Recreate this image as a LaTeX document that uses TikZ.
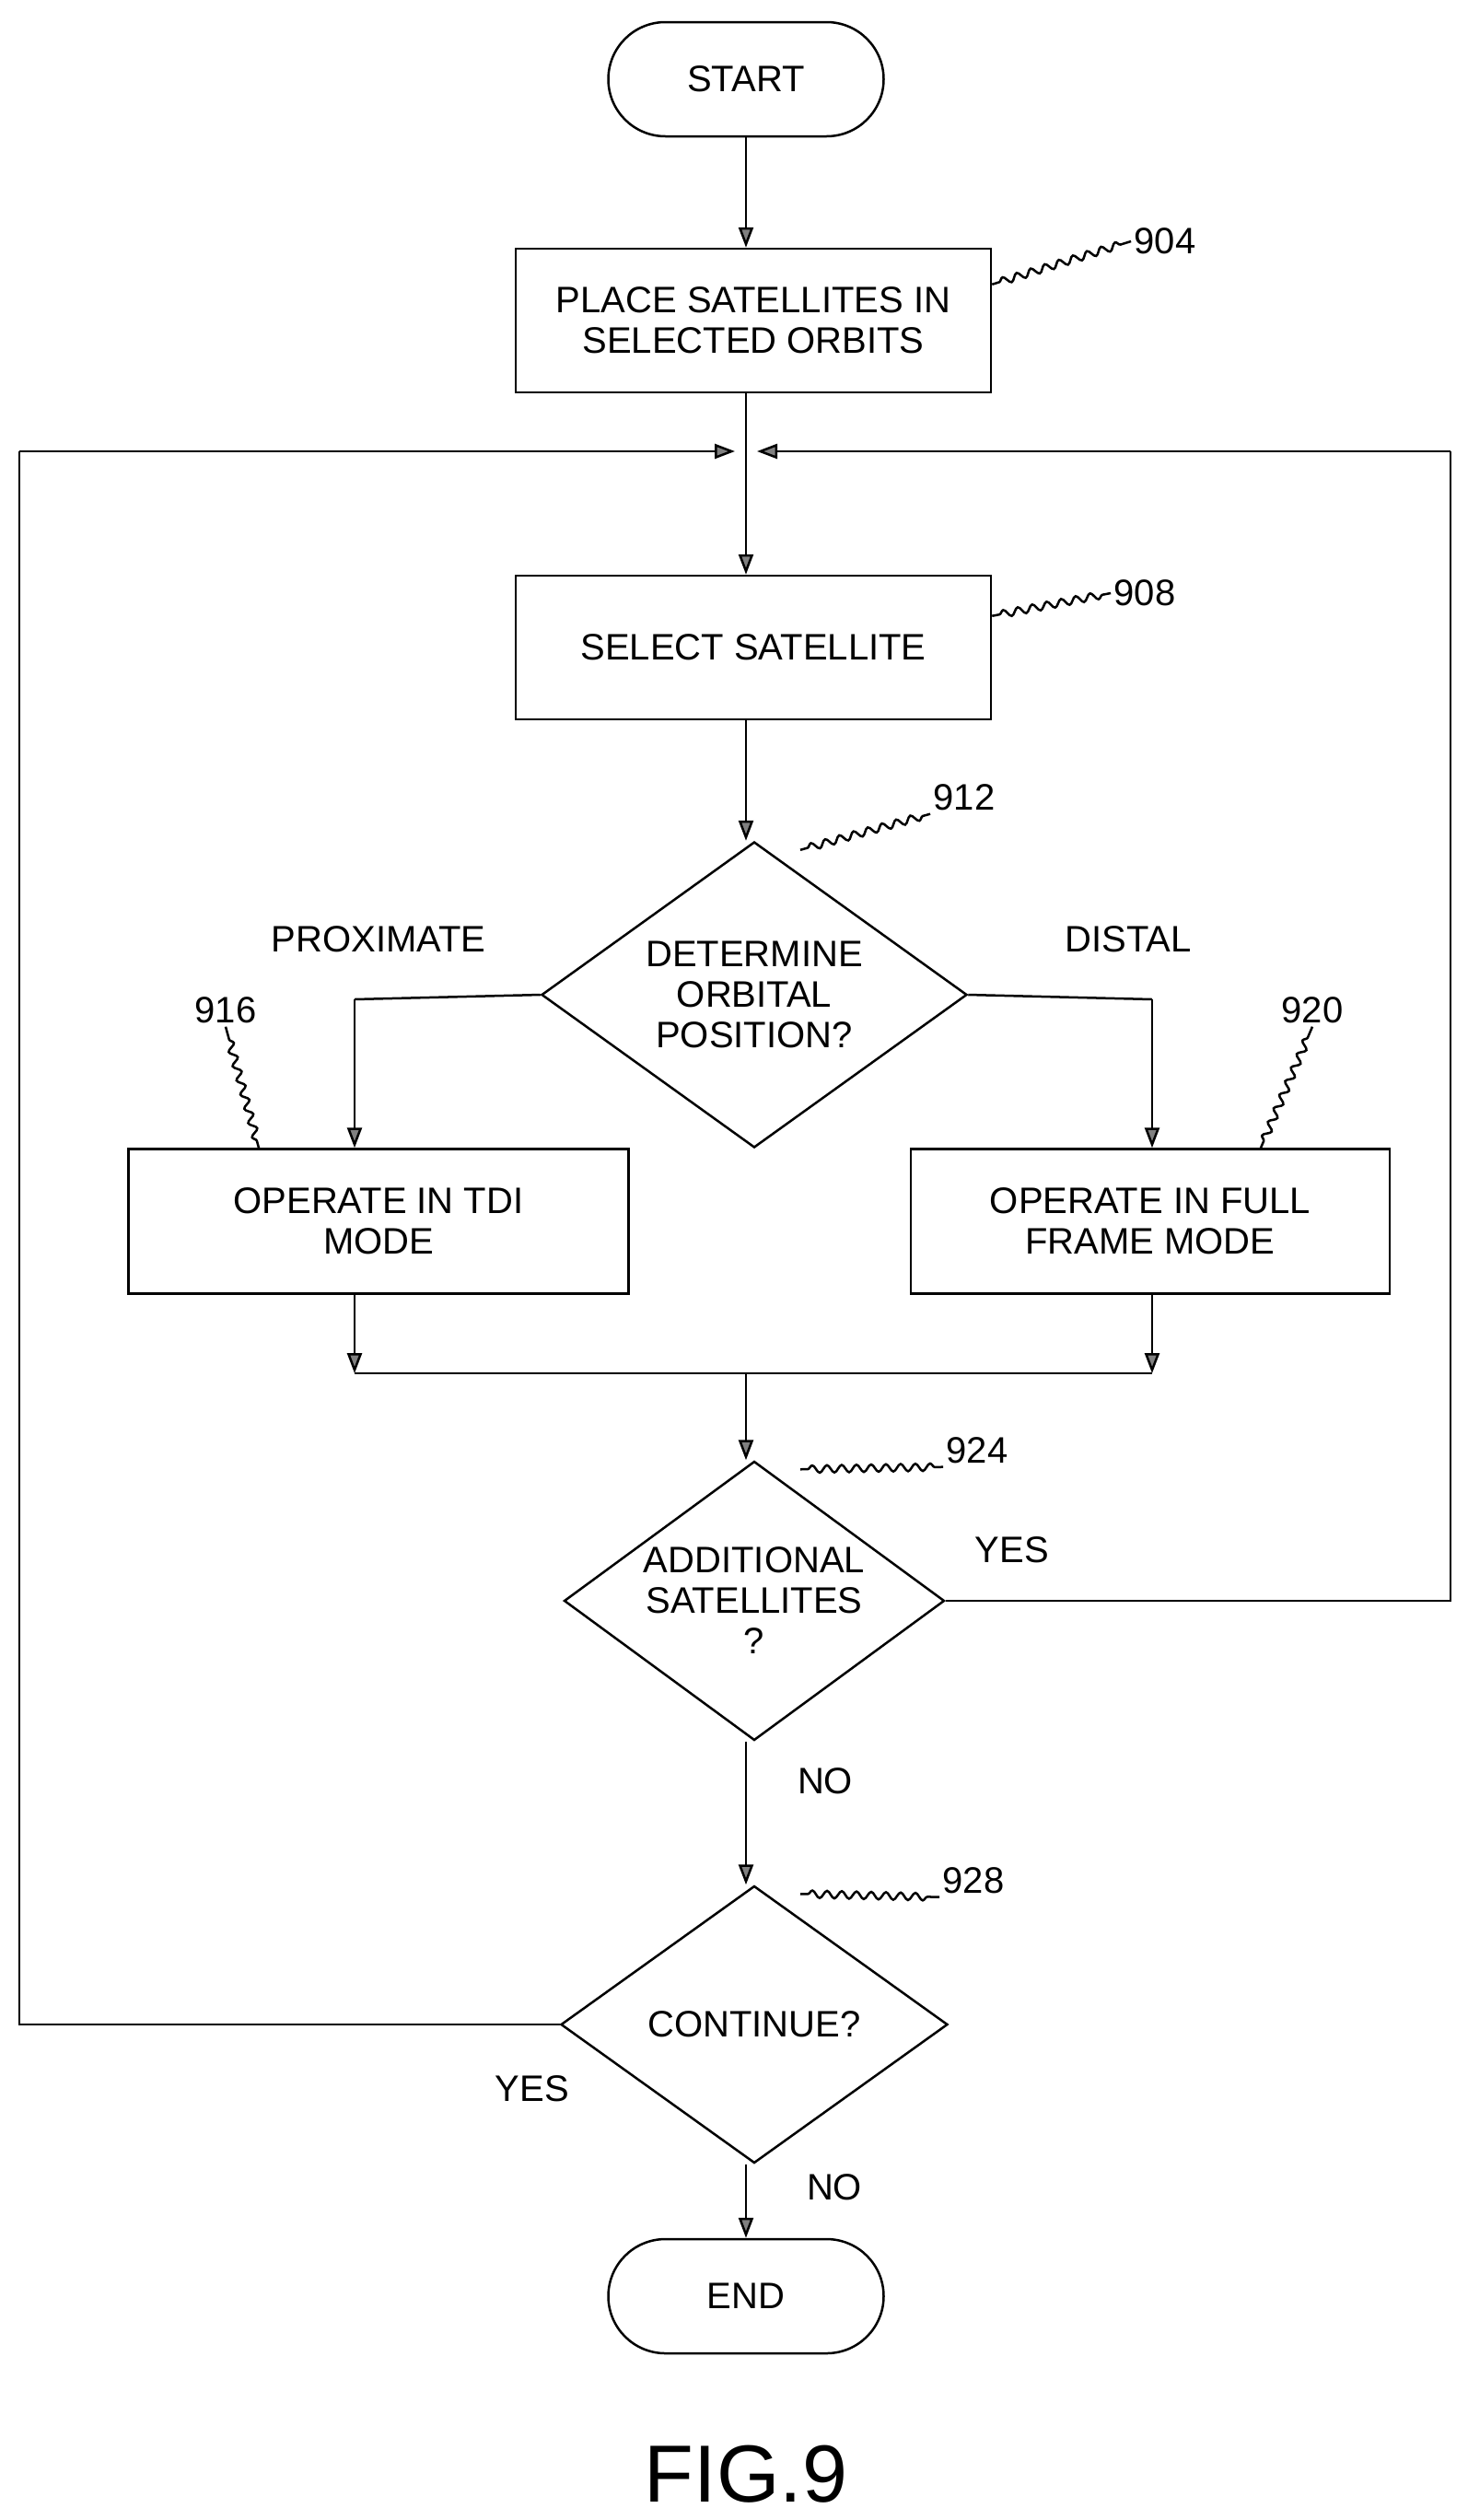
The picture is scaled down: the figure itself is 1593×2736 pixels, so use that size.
\documentclass[tikz,border=0pt]{standalone}
\usepackage{fontspec}
\setmainfont{Liberation Sans}
\usetikzlibrary{shapes.geometric,arrows.meta,decorations.pathmorphing}
\begin{document}
\begin{tikzpicture}[x=1pt,y=-1pt,
 every node/.style={font=\fontsize{40}{44}\selectfont},
 box/.style={draw,line width=2.5pt,minimum width=516pt,minimum height=156pt,align=center,inner sep=0pt},
 term/.style={draw,line width=2.5pt,rounded corners=62pt,minimum width=299pt,minimum height=124pt},
 dia/.style={draw,line width=2.5pt,diamond,aspect=1.39,align=center,inner sep=0pt},
 ln/.style={line width=2.5pt},
 ar/.style={line width=2.5pt,-{Triangle[length=22pt,width=16pt,open,fill=gray]}},
 lead/.style={line width=2.5pt,decorate,decoration={snake,amplitude=4pt,segment length=16pt,pre length=8pt,post length=8pt}},
 lab/.style={font=\fontsize{40}{44}\selectfont}]
\useasboundingbox (0,0) rectangle (1593,2736);
\node[term] (start) at (810,86) {START};
\node[box] (b904) at (818,348) {PLACE SATELLITES IN\\SELECTED ORBITS};
\node[box] (b908) at (818,703) {SELECT SATELLITE};
\node[dia,minimum width=462pt,minimum height=332pt] (d912) at (819,1080) {DETERMINE\\ORBITAL\\POSITION?};
\node[box,minimum width=543pt,minimum height=157pt] (b916) at (411,1326) {OPERATE IN TDI\\MODE};
\node[box,minimum width=520pt,minimum height=157pt] (b920) at (1249,1326) {OPERATE IN FULL\\FRAME MODE};
\node[dia,minimum width=413pt,minimum height=303pt] (d924) at (819,1738) {ADDITIONAL\\SATELLITES\\?};
\node[dia,minimum width=420pt,minimum height=301pt] (d928) at (819,2198) {CONTINUE?};
\node[term] (end) at (810,2493) {END};
\node[font=\fontsize{88}{90}\selectfont] (fig) at (810,2686) {FIG.9};
% labels
\node[lab] (l904) at (1265,262) {904};
\node[lab] (l908) at (1243,644) {908};
\node[lab] (l912) at (1047,866) {912};
\node[lab] (l916) at (245,1097) {916};
\node[lab] (l920) at (1425,1097) {920};
\node[lab] (l924) at (1061,1575) {924};
\node[lab] (l928) at (1057,2042) {928};
\node[lab] (tprox) at (411,1020) {PROXIMATE};
\node[lab] (tdist) at (1225,1020) {DISTAL};
\node[lab] (tyes1) at (1099,1683) {YES};
\node[lab] (tno1) at (896,1934) {NO};
\node[lab] (tyes2) at (578,2268) {YES};
\node[lab] (tno2) at (906,2375) {NO};
% coordinates
\coordinate (j) at (810,490);
\coordinate (jl) at (798,490);
\coordinate (jr) at (822,490);
\coordinate (tl) at (21,490);
\coordinate (tr) at (1575,490);
\coordinate (bl) at (21,2198);
\coordinate (br) at (1575,1738);
\coordinate (pl) at (385,1085);
\coordinate (pr) at (1251,1085);
\coordinate (ml) at (385,1491);
\coordinate (mr) at (1251,1491);
\coordinate (mm) at (810,1491);
% connectors
\draw[ar] (start.south -| j) -- (b904.north -| j);
\draw[ln] (b904.south -| j) -- (j);
\draw[ar] (j) -- (b908.north -| j);
\draw[ar] (b908.south -| j) -- (d912.north -| j);
\draw[ln] (d912.west) -- (pl); \draw[ar] (pl) -- (b916.north -| pl);
\draw[ln] (d912.east) -- (pr); \draw[ar] (pr) -- (b920.north -| pr);
\draw[ar] (b916.south -| ml) -- (ml);
\draw[ar] (b920.south -| mr) -- (mr);
\draw[ln] (ml) -- (mr);
\draw[ar] (mm) -- (d924.north -| mm);
\draw[ln] (d924.east) -- (br) -- (tr);
\draw[ar] (tr) -- (jr);
\draw[ar] (d924.south -| mm) -- (d928.north -| mm);
\draw[ln] (d928.west) -- (bl) -- (tl);
\draw[ar] (tl) -- (jl);
\draw[ar] (d928.south -| mm) -- (end.north -| mm);
% leaders
\draw[lead] (b904.north east) ++(0,40) -- (l904.west);
\draw[lead] (b908.north east) ++(0,45) -- (l908.west);
\draw[lead] ([shift={(50,10)}]d912.north) -- (l912.south west);
\draw[lead] ([shift={(-130,0)}]b916.north) -- (l916.south);
\draw[lead] ([shift={(120,0)}]b920.north) -- (l920.south);
\draw[lead] ([shift={(50,10)}]d924.north) -- (l924.south west);
\draw[lead] ([shift={(50,10)}]d928.north) -- (l928.south west);
\end{tikzpicture}
\end{document}
